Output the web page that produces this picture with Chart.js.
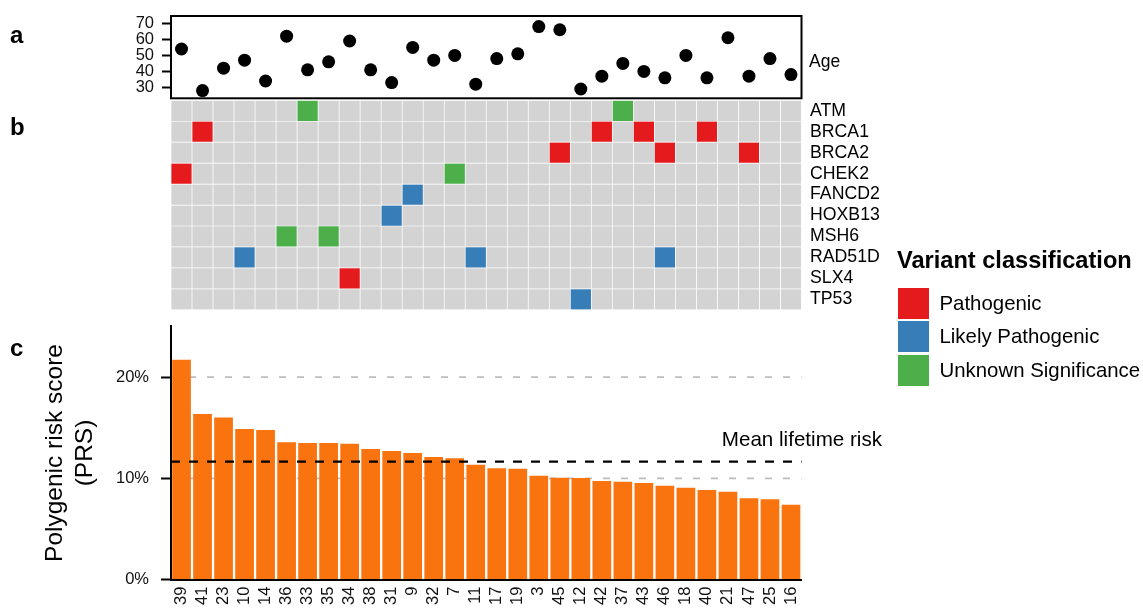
<!DOCTYPE html>
<html><head><meta charset="utf-8">
<script src="https://cdn.jsdelivr.net/npm/chart.js@4.4.1/dist/chart.umd.min.js"></script>
<style>
html,body{margin:0;padding:0;background:#fff;width:1143px;height:611px;overflow:hidden;font-family:"Liberation Sans",Arial,sans-serif;color:#000}
canvas{position:absolute;left:0}
.t{position:absolute;white-space:nowrap;font-family:"Liberation Sans",Arial,sans-serif}
.sw{position:absolute;width:31px;height:31px}
</style></head><body>
<canvas id="age" width="1143" height="105" style="top:0"></canvas>
<canvas id="heat" width="1143" height="220" style="top:95px"></canvas>
<canvas id="prs" width="1143" height="291" style="top:320px"></canvas>
<div class="t" style="left:10px;top:23px;font-weight:bold;font-size:24px;line-height:24px">a</div>
<div class="t" style="left:10px;top:115px;font-weight:bold;font-size:24px;line-height:24px">b</div>
<div class="t" style="left:10px;top:336px;font-weight:bold;font-size:24px;line-height:24px">c</div>
<div class="t" style="left:809px;top:51px;font-size:17.5px;line-height:20px">Age</div>
<div id="legend" style="position:absolute;left:897px;top:248px"></div>
<script>
// ---- data ----
const samples = ['39','41','23','10','14','36','33','35','34','38','31','9','32','7','11','17','19','3','45','12','42','37','43','46','18','40','21','47','25','16'];
const ages = [54,28,42,47,34,62,41,46,59,41,33,55,47,50,32,48,51,68,66,29,37,45,40,36,50,36,61,37,48,38];
const ageTicks = [30,40,50,60,70];
const prs = [21.7,16.35,16.0,14.87,14.77,13.55,13.48,13.48,13.42,12.89,12.69,12.5,12.1,11.97,11.34,10.99,10.95,10.26,10.06,10.03,9.73,9.66,9.54,9.27,9.07,8.85,8.68,8.03,7.93,7.39];
const prsTicks = [0,10,20];
const refLines = [10,20];
const meanRisk = 11.64;
const genes = ['ATM','BRCA1','BRCA2','CHEK2','FANCD2','HOXB13','MSH6','RAD51D','SLX4','TP53'];
const classes = ['Pathogenic','Likely Pathogenic','Unknown Significance'];
const classColors = ['#e41a1c','#377eb8','#4daf4a'];
const variantSample = ['33','37','41','42','43','40','45','46','47','39','7','9','31','36','35','10','11','46','34','12'];
const variantGene = ['ATM','ATM','BRCA1','BRCA1','BRCA1','BRCA1','BRCA2','BRCA2','BRCA2','CHEK2','CHEK2','FANCD2','HOXB13','MSH6','MSH6','RAD51D','RAD51D','RAD51D','SLX4','TP53'];
const variantClass = ['Unknown Significance','Unknown Significance','Pathogenic','Pathogenic','Pathogenic','Pathogenic','Pathogenic','Pathogenic','Pathogenic','Pathogenic','Unknown Significance','Likely Pathogenic','Likely Pathogenic','Unknown Significance','Unknown Significance','Likely Pathogenic','Likely Pathogenic','Likely Pathogenic','Pathogenic','Likely Pathogenic'];

// ---- setup ----
Chart.defaults.font.family = '"Liberation Sans", Arial, sans-serif';
Chart.defaults.color = '#111';
Chart.defaults.animation = false;
Chart.defaults.events = [];
Chart.defaults.plugins.legend.display = false;
Chart.defaults.plugins.tooltip.enabled = false;

const W = 1143, PLOT_LEFT = 171, PLOT_RIGHT = 801.5;
function zeroPad(s){ s.paddingTop = 0; s.paddingBottom = 0; s.paddingLeft = 0; s.paddingRight = 0; }
function fixW(w){ return s => { s.width = w; zeroPad(s); }; }
function fixH(h){ return s => { s.height = h; zeroPad(s); }; }

const boxPlugin = { id: 'box', afterDraw(chart){
  const {ctx, chartArea: a} = chart;
  ctx.save(); ctx.strokeStyle = '#000'; ctx.lineWidth = 2;
  ctx.strokeRect(a.left, a.top, a.right - a.left, a.bottom - a.top);
  ctx.restore();
}};

// ---- a: age ----
new Chart(document.getElementById('age'), {
  type: 'line',
  data: { labels: samples, datasets: [{ data: ages, showLine: false, pointRadius: 6.5,
    pointBackgroundColor: '#000', pointBorderColor: '#000', pointBorderWidth: 0 }] },
  options: {
    responsive: false,
    layout: { padding: { left: 0, right: W - PLOT_RIGHT, top: 16, bottom: 105 - 98.3 } },
    scales: {
      x: { display: false, offset: true },
      y: { min: 23.2, max: 74.6,
        afterBuildTicks: s => { s.ticks = ageTicks.map(v => ({ value: v })); },
        afterFit: fixW(PLOT_LEFT),
        grid: { drawOnChartArea: false, tickLength: 9, tickWidth: 2, tickColor: '#000' },
        border: { color: '#000', width: 2 },
        ticks: { padding: 8, font: { size: 16.5 }, autoSkip: false } }
    }
  },
  plugins: [boxPlugin]
});

// ---- b: heatmap ----
function cellColor(gi, si){
  for (let k = 0; k < variantSample.length; k++) {
    if (variantGene[k] === genes[gi] && variantSample[k] === samples[si]) return classColors[classes.indexOf(variantClass[k])];
  }
  return '#d3d3d3';
}
new Chart(document.getElementById('heat'), {
  type: 'bar',
  data: { labels: samples, datasets: genes.map((g, gi) => ({
    label: g, data: samples.map(() => [gi, gi + 1]),
    backgroundColor: samples.map((s, si) => cellColor(gi, si)),
    borderColor: '#fff', borderWidth: 0.7, borderSkipped: false, grouped: false,
    barPercentage: 1, categoryPercentage: 1 })) },
  options: {
    responsive: false,
    layout: { padding: { left: PLOT_LEFT, right: W - PLOT_RIGHT - 100, top: 5.3, bottom: 5.2 } },
    scales: {
      x: { display: false },
      y: { position: 'right', min: 0, max: genes.length, reverse: true,
        afterBuildTicks: s => { s.ticks = genes.map((g, i) => ({ value: i + 0.5 })); },
        afterFit: fixW(100),
        ticks: { callback: (v, i) => genes[i], padding: 8.5, font: { size: 17.7 }, color: '#000', autoSkip: false },
        grid: { display: false, drawTicks: false }, border: { display: false } }
    }
  }
});

// ---- c: PRS ----
const prsLines = {
  id: 'prsLines',
  beforeDatasetsDraw(chart){
    const {ctx, chartArea: a, scales: {y}} = chart;
    ctx.save(); ctx.strokeStyle = '#bdbdbd'; ctx.lineWidth = 1.8; ctx.setLineDash([7, 11]);
    refLines.forEach(v => { const py = y.getPixelForValue(v);
      ctx.beginPath(); ctx.moveTo(a.left, py); ctx.lineTo(a.right, py); ctx.stroke(); });
    ctx.restore();
  },
  afterDatasetsDraw(chart){
    const {ctx, chartArea: a, scales: {y}} = chart;
    const py = y.getPixelForValue(meanRisk);
    ctx.save(); ctx.strokeStyle = '#000'; ctx.lineWidth = 2.2; ctx.setLineDash([9, 9]);
    ctx.beginPath(); ctx.moveTo(a.left, py); ctx.lineTo(a.right, py); ctx.stroke();
    ctx.setLineDash([]); ctx.fillStyle = '#000'; ctx.font = '20.6px "Liberation Sans", Arial';
    ctx.textAlign = 'right'; ctx.textBaseline = 'alphabetic';
    ctx.fillText('Mean lifetime risk', a.right + 80.5, py - 16);
    ctx.restore();
  }
};
new Chart(document.getElementById('prs'), {
  type: 'bar',
  data: { labels: samples, datasets: [{ data: prs, backgroundColor: '#f9730e', barPercentage: 0.89, categoryPercentage: 1 }] },
  options: {
    responsive: false,
    layout: { padding: { left: 0, right: W - PLOT_RIGHT, top: 6.4, bottom: 0 } },
    scales: {
      x: { grid: { display: false, drawTicks: false }, border: { color: '#000', width: 2, z: 1 },
        ticks: { autoSkip: false, maxRotation: 90, minRotation: 90, padding: 7, font: { size: 16.5 } },
        afterFit: fixH(291 - 259.6) },
      y: { min: 0, max: 25,
        afterBuildTicks: s => { s.ticks = prsTicks.map(v => ({ value: v })); },
        afterFit: fixW(PLOT_LEFT),
        ticks: { callback: v => v + '%', padding: 12, font: { size: 16.5 } },
        grid: { drawOnChartArea: false, tickLength: 10, tickWidth: 2, tickColor: '#000' },
        border: { color: '#000', width: 2, z: 1 },
        title: { display: true, text: ['Polygenic risk score', '(PRS)'], color: '#000',
          font: { size: 24.5, lineHeight: 1.22 }, padding: { top: 40, bottom: 0 } } }
    }
  },
  plugins: [prsLines]
});

// ---- legend ----
const leg = document.getElementById('legend');
const title = document.createElement('div');
title.className = 't';
title.style.cssText = 'left:0;top:0;font-weight:bold;font-size:23.6px;line-height:24px';
title.textContent = 'Variant classification';
leg.appendChild(title);
classes.forEach((c, i) => {
  const sw = document.createElement('div');
  sw.className = 'sw';
  sw.style.left = '1px'; sw.style.top = (39.5 + i * 33.6) + 'px'; sw.style.background = classColors[i];
  leg.appendChild(sw);
  const lb = document.createElement('div');
  lb.className = 't';
  lb.style.cssText = 'left:42.5px;font-size:20.4px;line-height:31px;top:' + (39.5 + i * 33.6) + 'px';
  lb.textContent = c;
  leg.appendChild(lb);
});
</script>
</body></html>
